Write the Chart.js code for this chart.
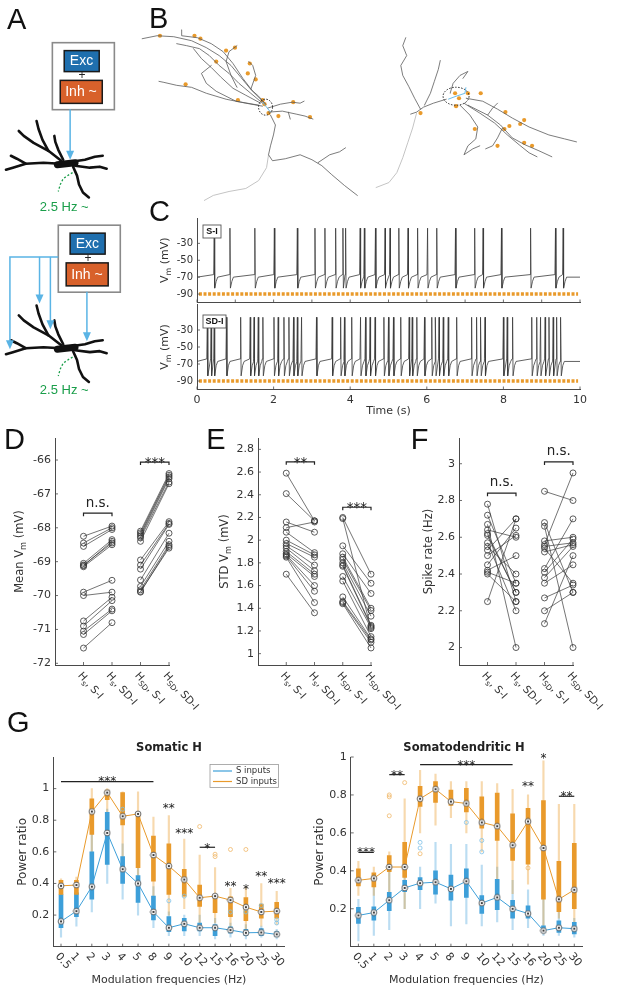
<!DOCTYPE html>
<html>
<head>
<meta charset="utf-8">
<script src="https://cdn.jsdelivr.net/npm/chart.js@4.4.1/dist/chart.umd.min.js"></script>
<style>
  html, body { margin: 0; padding: 0; background: #fff; }
  #page { position: relative; width: 617px; height: 988px; overflow: hidden; }
  #page canvas { position: absolute; left: 0; top: 0; }
</style>
</head>
<body>
<div id="page"></div>
<script>
// ---- panel C : spike times (s)
const spikesSI = [0.45, 0.86, 1.51, 2.02, 2.62, 3.08, 3.34, 3.62, 3.81, 3.88, 4.26, 4.37, 4.66, 4.91, 5.04,
  5.27, 5.51, 5.76, 6.02, 6.26, 6.75, 7.25, 7.47, 7.95, 8.71, 9.36, 9.56];
const spikesSDI = [0.27, 0.37, 0.45, 0.77, 1.14, 1.39, 1.49, 1.60, 1.72, 2.01, 2.12, 2.27, 2.40, 2.52, 2.62,
  2.73, 3.12, 3.53, 3.75, 3.85, 4.04, 4.27, 4.40, 4.52, 4.65, 4.88, 5.00, 5.13, 5.32, 5.54, 5.62, 5.74,
  5.94, 6.13, 6.23, 6.32, 6.43, 6.56, 6.78, 7.17, 7.30, 7.41, 7.52, 8.00, 8.10, 8.24, 8.74, 8.87, 8.97,
  9.09, 9.19, 9.30, 9.39, 9.50];
const vmTicksC = [-90, -70, -50, -30];
const timeTicksTop = [0, 1, 2, 3, 4, 5, 6, 7, 8, 9, 10];
const timeTicksBottom = [0, 2, 4, 6, 8, 10];
const inhLevel = -90;

// ---- panels D, E, F : paired values (H_s group, H_SD group)
const pairLabels = [['H', 's', ', S-I'], ['H', 's', ', SD-I'], ['H', 'SD', ', S-I'], ['H', 'SD', ', SD-I']];
const meanHsSI = [-68.25, -68.45, -68.55, -69.05, -69.1, -69.15, -69.12, -69.9, -70.0, -70.75, -70.9, -71.05, -71.15, -71.55];
const meanHsSDI = [-67.95, -68.0, -68.05, -68.35, -68.45, -68.5, -68.4, -69.55, -69.9, -70.05, -70.15, -70.4, -70.45, -70.8];
const meanHsdSI = [-68.1, -68.15, -68.2, -68.25, -68.3, -68.4, -68.95, -69.1, -69.22, -69.54, -69.73, -69.83, -69.88, -69.9];
const meanHsdSDI = [-66.4, -66.45, -66.5, -66.55, -66.65, -66.7, -67.82, -67.87, -67.9, -68.16, -68.4, -68.5, -68.6, -68.55];
const meanTicks = [-72, -71, -70, -69, -68, -67, -66];

const stdHsSI = [2.59, 2.41, 2.16, 2.11, 2.07, 2.0, 1.97, 1.95, 1.93, 1.9, 1.88, 1.87, 1.86, 1.85, 1.7];
const stdHsSDI = [2.17, 2.17, 2.07, 2.16, 1.89, 1.87, 1.85, 1.78, 1.73, 1.7, 1.68, 1.6, 1.55, 1.45, 1.36];
const stdHsdSI = [2.2, 2.19, 1.95, 1.88, 1.85, 1.83, 1.8, 1.78, 1.77, 1.68, 1.64, 1.5, 1.46, 1.45, 1.44];
const stdHsdSDI = [1.7, 1.22, 1.62, 1.53, 1.4, 1.38, 1.33, 1.25, 1.24, 1.23, 1.15, 1.13, 1.12, 1.1, 1.05];
const stdTicks = [1, 1.2, 1.4, 1.6, 1.8, 2, 2.2, 2.4, 2.6, 2.8];

const rateHsSI = [2.78, 2.72, 2.67, 2.64, 2.62, 2.57, 2.55, 2.53, 2.5, 2.45, 2.42, 2.41, 2.4, 2.25, 2.61];
const rateHsSDI = [2.25, 2.35, 2.0, 2.6, 2.3, 2.2, 2.4, 2.7, 2.61, 2.65, 2.5, 2.35, 2.25, 2.7, 2.3];
const rateHsdSI = [2.85, 2.68, 2.66, 2.58, 2.56, 2.55, 2.54, 2.52, 2.43, 2.41, 2.38, 2.35, 2.27, 2.2, 2.13];
const rateHsdSDI = [2.8, 2.3, 2.0, 2.6, 2.95, 2.57, 2.35, 2.56, 2.7, 2.59, 2.55, 2.45, 2.34, 2.3, 2.5];
const rateTicks = [2, 2.2, 2.4, 2.6, 2.8, 3];

// ---- panel G : power ratio box summaries per modulation frequency
const freqs = ['0.5', '1', '2', '3', '4', '5', '8', '9', '10', '12', '15', '16', '20', '25', '30'];
const powerTicks = [0.2, 0.4, 0.6, 0.8, 1];

const somS_med = [0.16, 0.225, 0.38, 0.72, 0.49, 0.40, 0.22, 0.12, 0.145, 0.12, 0.12, 0.105, 0.088, 0.09, 0.078];
const somS_q1 = [0.12, 0.19, 0.30, 0.52, 0.40, 0.28, 0.17, 0.095, 0.10, 0.10, 0.07, 0.085, 0.07, 0.07, 0.063];
const somS_q3 = [0.33, 0.34, 0.60, 0.85, 0.57, 0.45, 0.32, 0.19, 0.18, 0.15, 0.14, 0.125, 0.11, 0.115, 0.095];
const somS_lo = [0.06, 0.13, 0.22, 0.40, 0.30, 0.20, 0.12, 0.07, 0.07, 0.07, 0.05, 0.06, 0.05, 0.06, 0.05];
const somS_hi = [0.40, 0.40, 0.80, 0.87, 0.65, 0.55, 0.38, 0.22, 0.20, 0.20, 0.18, 0.15, 0.14, 0.13, 0.11];
const somS_out = [['4', 0.87], ['9', 0.29], ['10', 0.32], ['16', 0.22], ['20', 0.22], ['25', 0.26], ['30', 0.15], ['30', 0.17]];

const somSD_med = [0.385, 0.39, 0.855, 0.975, 0.825, 0.84, 0.58, 0.51, 0.425, 0.31, 0.32, 0.295, 0.25, 0.22, 0.225];
const somSD_q1 = [0.33, 0.33, 0.71, 0.93, 0.77, 0.50, 0.415, 0.33, 0.32, 0.255, 0.215, 0.19, 0.165, 0.18, 0.18];
const somSD_q3 = [0.42, 0.42, 0.935, 0.99, 0.975, 0.845, 0.70, 0.65, 0.49, 0.39, 0.33, 0.315, 0.31, 0.27, 0.28];
const somSD_lo = [0.30, 0.30, 0.55, 0.85, 0.55, 0.30, 0.25, 0.20, 0.24, 0.15, 0.15, 0.12, 0.11, 0.13, 0.14];
const somSD_hi = [0.43, 0.44, 1.0, 1.0, 0.98, 0.98, 0.82, 0.83, 0.68, 0.58, 0.50, 0.37, 0.38, 0.40, 0.35];
const somSD_out = [['12', 0.76], ['15', 0.57], ['15', 0.585], ['16', 0.615], ['20', 0.615]];

const sdS_med = [0.165, 0.18, 0.245, 0.31, 0.335, 0.34, 0.305, 0.345, 0.23, 0.26, 0.20, 0.175, 0.085, 0.10, 0.095];
const sdS_q1 = [0.123, 0.14, 0.19, 0.29, 0.30, 0.277, 0.245, 0.26, 0.175, 0.195, 0.15, 0.15, 0.075, 0.075, 0.067];
const sdS_q3 = [0.207, 0.21, 0.286, 0.35, 0.365, 0.40, 0.377, 0.41, 0.27, 0.355, 0.245, 0.215, 0.11, 0.137, 0.128];
const sdS_lo = [0.03, 0.06, 0.09, 0.20, 0.20, 0.23, 0.11, 0.12, 0.11, 0.13, 0.09, 0.10, 0.06, 0.06, 0.05];
const sdS_hi = [0.25, 0.33, 0.40, 0.43, 0.42, 0.55, 0.54, 0.54, 0.43, 0.42, 0.35, 0.30, 0.30, 0.30, 0.15];
const sdS_out = [['4', 0.55], ['4', 0.52], ['9', 0.655], ['10', 0.56], ['10', 0.50]];

const sdSD_med = [0.35, 0.36, 0.42, 0.42, 0.78, 0.83, 0.765, 0.755, 0.655, 0.635, 0.535, 0.66, 0.52, 0.25, 0.30];
const sdSD_q1 = [0.32, 0.315, 0.395, 0.365, 0.74, 0.76, 0.745, 0.71, 0.625, 0.56, 0.455, 0.435, 0.25, 0.185, 0.20];
const sdSD_q3 = [0.41, 0.39, 0.48, 0.55, 0.845, 0.87, 0.825, 0.835, 0.79, 0.81, 0.70, 0.73, 0.77, 0.45, 0.545];
const sdSD_lo = [0.27, 0.27, 0.27, 0.20, 0.60, 0.64, 0.68, 0.60, 0.50, 0.30, 0.28, 0.33, 0.08, 0.15, 0.08];
const sdSD_hi = [0.45, 0.42, 0.50, 0.78, 0.93, 0.91, 0.87, 0.87, 0.87, 0.86, 0.83, 0.80, 0.98, 0.75, 0.75];
const sdSD_out = [['2', 0.80], ['2', 0.79], ['2', 0.69], ['3', 0.865], ['4', 0.49], ['16', 0.415]];

// ---- schematic shapes (panel A neuron, panel B morphologies), page coordinates
const neuronBranches = [
  [[58, 158], [45, 148], [30, 140], [20, 133], [15, 128]],
  [[45, 148], [39, 137], [35, 126], [33, 118]],
  [[60, 157], [55, 147], [52, 139], [51, 133]],
  [[57, 161], [40, 160], [22, 161], [9, 165], [2, 167]],
  [[22, 161], [13, 156], [7, 153]],
  [[68, 159], [82, 157], [92, 154], [100, 153]],
  [[72, 163], [87, 165], [97, 164], [104, 166]],
  [[70, 164], [74, 173], [76, 182], [80, 190], [86, 195]]
];
const neuronSoma = [[54, 162], [72, 160]];
const neuronAxon = [[73, 168], [66, 172], [60, 176], [57, 182], [55, 189]];
const neuronOffsets = [0, 186];

const morphLeft = [
  [[265, 101], [258, 93], [250, 86], [240, 74], [230, 62], [218, 52], [205, 44], [190, 37], [172, 33], [155, 32], [140, 35]],
  [[263, 99], [252, 88], [242, 75], [232, 60], [222, 48], [210, 40], [196, 34], [180, 32], [180, 26]],
  [[262, 100], [250, 90], [238, 80], [228, 70], [218, 62], [208, 52], [198, 45], [185, 42], [175, 40]],
  [[260, 100], [245, 92], [232, 85], [220, 74], [210, 64], [200, 55], [192, 45]],
  [[236, 84], [230, 72], [225, 58], [228, 48], [236, 42]],
  [[250, 86], [255, 72], [252, 62], [248, 58]],
  [[262, 103], [245, 100], [225, 96], [205, 90], [190, 84], [175, 82], [162, 79], [157, 78]],
  [[258, 102], [235, 98], [215, 88], [205, 80], [200, 70], [210, 62]],
  [[268, 109], [282, 108], [296, 111], [305, 113], [313, 116]],
  [[267, 105], [280, 101], [292, 99], [300, 100], [304, 98]],
  [[288, 109], [290, 116]],
  [[270, 112], [275, 122], [273, 132], [270, 143], [268, 152], [272, 158], [285, 156], [300, 152], [312, 157], [322, 163], [332, 172], [345, 183], [358, 193]],
  [[318, 160], [330, 152], [340, 149], [346, 145]]
];
const morphLeftAxon = [[268, 152], [266, 165], [258, 178], [245, 186], [228, 189], [212, 193], [203, 198]];
const morphRight = [
  [[448, 96], [435, 100], [425, 104], [418, 109], [412, 111]],
  [[422, 106], [416, 95], [410, 83], [404, 72], [402, 62], [408, 52], [404, 42], [407, 34]],
  [[426, 102], [432, 90], [436, 78], [440, 66], [442, 57]],
  [[452, 90], [455, 80], [462, 72], [470, 68], [465, 75]],
  [[468, 95], [485, 98], [500, 106], [515, 115], [532, 124], [552, 132], [568, 136], [580, 139]],
  [[466, 100], [482, 110], [497, 120], [510, 132], [522, 142], [532, 150], [540, 154]],
  [[462, 102], [472, 112], [480, 124], [478, 136], [470, 143], [466, 152], [475, 146], [482, 143]],
  [[470, 102], [490, 112], [503, 122], [515, 135], [528, 142], [542, 148], [555, 154]],
  [[490, 112], [495, 105], [500, 100]],
  [[505, 125], [500, 135], [495, 143], [488, 146]]
];
const morphRightAxon = [[418, 110], [414, 125], [409, 140], [404, 155], [398, 170], [390, 180], [377, 185]];
const synapseDots = [[158, 32], [193, 32], [199, 35], [234, 44], [225, 47], [249, 60], [215, 58], [247, 70], [255, 76],
  [184, 81], [237, 97], [262, 97], [293, 99], [278, 113], [310, 114], [268, 110], [264, 101],
  [457, 90], [461, 95], [470, 90], [483, 90], [458, 103], [422, 110], [508, 109], [477, 126], [507, 126],
  [512, 123], [523, 121], [527, 117], [500, 143], [527, 140], [535, 143]];

// ------------------------------------------------------------------
const W = 617, H = 988;
const FONT = 'DejaVu Sans';
const ARIAL = 'Liberation Sans';
const BLUE = '#3d9fd9', ORANGE = '#e99a2b';
const BLUE_L = 'rgba(61,159,217,0.35)', ORANGE_L = 'rgba(233,154,43,0.38)';

Chart.defaults.font.family = FONT;
Chart.defaults.color = '#333';

const page = document.getElementById('page');
function newCanvas() {
  const c = document.createElement('canvas');
  c.width = W; c.height = H;
  c.style.width = W + 'px'; c.style.height = H + 'px';
  page.appendChild(c);
  return c;
}

// plot area in page pixels -> layout padding
function area(L, T, R, B, yW, xH) {
  return { left: L - yW, top: T, right: W - R, bottom: H - B - xH };
}

function linAxis(min, max, ticks, size, showLabels, fontSize) {
  return {
    type: 'linear', min: min, max: max,
    afterFit(s) { if (s.isHorizontal()) s.height = size; else s.width = size; },
    afterBuildTicks(s) { s.ticks = ticks.map(v => ({ value: v })); },
    ticks: { display: showLabels, font: { size: fontSize || 11 }, color: '#333', padding: 4,
      maxRotation: 0, autoSkip: false, callback: v => String(v) },
    grid: { display: true, drawOnChartArea: false, drawTicks: false },
    border: { display: true, color: '#4a4a4a', width: 1 }
  };
}

function baseOptions(pad, scales) {
  return {
    responsive: false, animation: false, events: [],
    layout: { padding: pad },
    plugins: { legend: { display: false }, tooltip: { enabled: false } },
    scales: scales
  };
}

const innerTicks = {
  id: 'innerTicks',
  afterDatasetsDraw(chart) {
    const { ctx, chartArea: a } = chart;
    const xs = chart.scales.x, ys = chart.scales.y;
    ctx.save();
    ctx.strokeStyle = '#4a4a4a';
    ctx.lineWidth = 0.8;
    ctx.beginPath();
    xs.ticks.forEach((t, i) => { const p = xs.getPixelForTick(i); ctx.moveTo(p, a.bottom); ctx.lineTo(p, a.bottom - 3); });
    ys.ticks.forEach((t, i) => { const p = ys.getPixelForTick(i); ctx.moveTo(a.left, p); ctx.lineTo(a.left + 3, p); });
    ctx.stroke();
    ctx.restore();
  }
};

// text with subscripts: parts = [[text, isSub], ...]
function drawRich(ctx, parts, x, y, size, rot, align, color, weight) {
  ctx.save();
  ctx.translate(x, y);
  ctx.rotate(rot || 0);
  const fonts = parts.map(p => (weight ? weight + ' ' : '') + (p[1] ? size * 0.72 : size) + 'px ' + FONT);
  let total = 0;
  const widths = parts.map((p, i) => { ctx.font = fonts[i]; const w = ctx.measureText(p[0]).width; total += w; return w; });
  let cx = align === 'left' ? 0 : -total / 2;
  ctx.fillStyle = color || '#333';
  ctx.textBaseline = 'middle';
  ctx.textAlign = 'left';
  parts.forEach((p, i) => { ctx.font = fonts[i]; ctx.fillText(p[0], cx, p[1] ? size * 0.32 : 0); cx += widths[i]; });
  ctx.restore();
}

function starText(ctx, text, x, yc, size) {
  ctx.save();
  ctx.font = size + 'px ' + FONT;
  ctx.fillStyle = '#222';
  ctx.textAlign = 'center';
  if (text.indexOf('*') >= 0) { ctx.textBaseline = 'alphabetic'; ctx.fillText(text, x, yc + size * 0.57); }
  else { ctx.textBaseline = 'middle'; ctx.fillText(text, x, yc); }
  ctx.restore();
}

// ------------------------------------------------------------------
// Schematic layer (panels A and B, panel letters)
function poly(pts, dy, color, w) {
  return { data: pts.map(p => ({ x: p[0], y: p[1] + dy })), showLine: true, borderColor: color, borderWidth: w,
    pointRadius: 0, borderCapStyle: 'round', borderJoinStyle: 'round', clip: false };
}
const sketchSets = [];
neuronOffsets.forEach(dy => {
  neuronBranches.forEach(b => sketchSets.push(poly(b, dy, '#111', 2.6)));
  sketchSets.push(poly(neuronSoma, dy, '#111', 7));
  sketchSets.push(Object.assign(poly(neuronAxon, dy, '#1a9e4a', 1.3), { borderDash: [2, 2], borderCapStyle: 'butt' }));
});
morphLeft.concat(morphRight).forEach(b => sketchSets.push(poly(b, 0, '#5a5a5a', 0.8)));
sketchSets.push(poly(morphLeftAxon, 0, '#c4c4c4', 1));
sketchSets.push(poly(morphRightAxon, 0, '#c4c4c4', 1));
sketchSets.push({ data: synapseDots.map(p => ({ x: p[0], y: p[1] })), showLine: false, pointRadius: 2.1,
  pointBackgroundColor: ORANGE, pointBorderWidth: 0, clip: false });

const sketchDeco = {
  id: 'sketchDeco',
  afterDatasetsDraw(chart) {
    const ctx = chart.ctx, xs = chart.scales.x, ys = chart.scales.y;
    const X = v => xs.getPixelForValue(v), Y = v => ys.getPixelForValue(v);
    ctx.save();
    // input boxes
    [[49, 39], [55, 223]].forEach(f => {
      const fx = f[0], fy = f[1];
      ctx.lineWidth = 1.6; ctx.strokeStyle = '#8a8a8a';
      ctx.strokeRect(X(fx), Y(fy), 62, 67);
      ctx.lineWidth = 1.5; ctx.strokeStyle = '#1a1a1a';
      ctx.fillStyle = '#1f6fae'; ctx.fillRect(X(fx + 12), Y(fy + 8), 35, 21); ctx.strokeRect(X(fx + 12), Y(fy + 8), 35, 21);
      ctx.fillStyle = '#d8612b'; ctx.fillRect(X(fx + 8), Y(fy + 38), 42, 23); ctx.strokeRect(X(fx + 8), Y(fy + 38), 42, 23);
      ctx.font = '14px ' + ARIAL; ctx.textAlign = 'center'; ctx.textBaseline = 'middle';
      ctx.fillStyle = '#fff';
      ctx.fillText('Exc', X(fx + 29.5), Y(fy + 19));
      ctx.fillText('Inh ~', X(fx + 29), Y(fy + 50));
      ctx.fillStyle = '#222'; ctx.font = '12px ' + ARIAL;
      ctx.fillText('+', X(fx + 30), Y(fy + 33.5));
    });
    // blue input arrows
    ctx.strokeStyle = '#5ab4e5'; ctx.fillStyle = '#5ab4e5'; ctx.lineWidth = 1.5;
    [[[67, 106], [67, 157]], [[55, 255], [6, 255], [6, 348]], [[36, 255], [36, 302]],
     [[47, 255], [47, 328]], [[84, 290], [84, 340]]].forEach(path => {
      const end = path[path.length - 1];
      ctx.beginPath();
      path.forEach((p, i) => { const py = i === path.length - 1 ? p[1] - 6 : p[1]; if (i) ctx.lineTo(X(p[0]), Y(py)); else ctx.moveTo(X(p[0]), Y(py)); });
      ctx.stroke();
      ctx.beginPath();
      ctx.moveTo(X(end[0]), Y(end[1])); ctx.lineTo(X(end[0]) - 4, Y(end[1]) - 9); ctx.lineTo(X(end[0]) + 4, Y(end[1]) - 9);
      ctx.closePath(); ctx.fill();
    });
    // oscillation labels
    ctx.fillStyle = '#1a9e4a'; ctx.font = '13px ' + ARIAL; ctx.textAlign = 'center'; ctx.textBaseline = 'middle';
    ctx.fillText('2.5 Hz ~', X(61), Y(205));
    ctx.fillText('2.5 Hz ~', X(61), Y(390));
    // somata of reconstructed cells
    ctx.setLineDash([1.5, 1.5]); ctx.strokeStyle = '#222'; ctx.lineWidth = 1;
    [[265, 104, 7, 8], [458, 93, 13, 9]].forEach(e => {
      ctx.beginPath(); ctx.ellipse(X(e[0]), Y(e[1]), e[2], e[3], 0, 0, 2 * Math.PI); ctx.stroke();
    });
    ctx.setLineDash([]); ctx.strokeStyle = '#5ab4e5'; ctx.lineWidth = 0.9;
    [[[262, 99], [266, 104], [270, 109]], [[450, 96], [458, 93], [467, 90], [468, 84]]].forEach(path => {
      ctx.beginPath(); path.forEach((p, i) => i ? ctx.lineTo(X(p[0]), Y(p[1])) : ctx.moveTo(X(p[0]), Y(p[1]))); ctx.stroke();
    });
    // panel letters
    ctx.fillStyle = '#111'; ctx.font = '29px ' + ARIAL; ctx.textAlign = 'left'; ctx.textBaseline = 'alphabetic';
    [['A', 3, 25], ['B', 147, 24], ['C', 147, 219], ['D', 0, 449], ['E', 205, 449], ['F', 412, 449], ['G', 3, 734]]
      .forEach(l => ctx.fillText(l[0], X(l[1]), Y(l[2])));
    ctx.restore();
  }
};

new Chart(newCanvas(), {
  type: 'scatter',
  data: { datasets: sketchSets },
  options: baseOptions(0, {
    x: { type: 'linear', min: 0, max: W, display: false },
    y: { type: 'linear', min: 0, max: H, reverse: true, display: false }
  }),
  plugins: [sketchDeco]
});

// ------------------------------------------------------------------
// Panel C : membrane potential traces
function buildTrace(spikes, rest, peak, ahp) {
  const pts = [{ x: 0, y: rest }];
  spikes.forEach((t, i) => {
    const next = i + 1 < spikes.length ? spikes[i + 1] : 10;
    pts.push({ x: t - 0.015, y: rest + 3 });
    pts.push({ x: t, y: peak });
    pts.push({ x: t + 0.012, y: ahp });
    if (next - t > 0.1) {
      pts.push({ x: t + 0.05, y: rest - 5 });
      pts.push({ x: t + 0.09, y: rest });
    }
  });
  pts.push({ x: 10, y: rest });
  return pts;
}

function traceChart(opt) {
  const deco = {
    id: 'traceDeco',
    afterDraw(chart) {
      const { ctx, chartArea: a } = chart;
      ctx.save();
      ctx.fillStyle = '#fff'; ctx.strokeStyle = '#555'; ctx.lineWidth = 0.9;
      ctx.fillRect(a.left + 6, a.top + opt.boxDy, opt.boxW, 13);
      ctx.strokeRect(a.left + 6, a.top + opt.boxDy, opt.boxW, 13);
      ctx.fillStyle = '#111'; ctx.font = 'bold 9px ' + ARIAL; ctx.textAlign = 'center'; ctx.textBaseline = 'middle';
      ctx.fillText(opt.tag, a.left + 6 + opt.boxW / 2, a.top + opt.boxDy + 6.8);
      ctx.restore();
      drawRich(ctx, [['V', false], ['m', true], [' (mV)', false]], 165, (a.top + a.bottom) / 2, 11, -Math.PI / 2, 'center');
      if (opt.timeTitle) {
        ctx.save(); ctx.font = '11px ' + FONT; ctx.fillStyle = '#333'; ctx.textAlign = 'center'; ctx.textBaseline = 'middle';
        ctx.fillText('Time (s)', (a.left + a.right) / 2, 411); ctx.restore();
      }
    }
  };
  new Chart(newCanvas(), {
    type: 'scatter',
    data: { datasets: [
      { data: buildTrace(opt.spikes, opt.rest, opt.peak, opt.ahp), showLine: true, borderColor: '#3a3a3a',
        borderWidth: 0.8, pointRadius: 0 },
      { data: [{ x: 0.05, y: inhLevel }, { x: 9.95, y: inhLevel }], showLine: true, borderColor: ORANGE,
        borderWidth: 3.5, borderDash: [3, 1.6], pointRadius: 0 }
    ] },
    options: baseOptions(area(197, opt.T, 580, opt.B, 50, opt.xH), {
      x: linAxis(0, 10, opt.xTicks, opt.xH, opt.xLabels, 11),
      y: linAxis(-100, 0, vmTicksC, 50, true, 10)
    }),
    plugins: [innerTicks, deco]
  });
}

traceChart({ T: 218, B: 302.5, xH: 2, xTicks: timeTicksTop, xLabels: false, spikes: spikesSI,
  rest: -70, peak: -12, ahp: -83, tag: 'S-I', boxW: 18, boxDy: 7, timeTitle: false });
traceChart({ T: 304.5, B: 389.5, xH: 30, xTicks: timeTicksBottom, xLabels: true, spikes: spikesSDI,
  rest: -67, peak: -15, ahp: -84, tag: 'SD-I', boxW: 23, boxDy: 10.5, timeTitle: true });

// ------------------------------------------------------------------
// Panels D, E, F : paired comparisons
function pairChart(opt) {
  const datasets = [];
  opt.groups.forEach((g, gi) => {
    g[0].forEach((v, i) => datasets.push({
      data: [{ x: gi * 2 + 1, y: v }, { x: gi * 2 + 2, y: g[1][i] }],
      showLine: true, borderColor: '#3a3a3a', borderWidth: 0.7,
      pointRadius: 3, pointBorderWidth: 0.8, pointBorderColor: '#333',
      pointBackgroundColor: 'rgba(255,255,255,0)', clip: false
    }));
  });
  const deco = {
    id: 'pairDeco',
    afterDraw(chart) {
      const { ctx, chartArea: a } = chart;
      const xs = chart.scales.x, ys = chart.scales.y;
      drawRich(ctx, opt.yTitle, opt.yTitleX, (a.top + a.bottom) / 2, 11.5, -Math.PI / 2, 'center');
      pairLabels.forEach((lab, i) => {
        const px = xs.getPixelForValue(i + 1);
        drawRich(ctx, [[lab[0], false], [lab[1], true], [lab[2], false]], px - 4, a.bottom + 9, 10.5, 48 * Math.PI / 180, 'left');
      });
      ctx.save();
      ctx.strokeStyle = '#222'; ctx.lineWidth = 1.2;
      opt.notes.forEach(n => {
        const x1 = xs.getPixelForValue(n.x1), x2 = xs.getPixelForValue(n.x2), yl = ys.getPixelForValue(n.yl);
        ctx.beginPath(); ctx.moveTo(x1, yl + 3); ctx.lineTo(x1, yl); ctx.lineTo(x2, yl); ctx.lineTo(x2, yl + 3); ctx.stroke();
        starText(ctx, n.text, (x1 + x2) / 2, ys.getPixelForValue(n.yt), 13.5);
      });
      ctx.restore();
    }
  };
  new Chart(newCanvas(), {
    type: 'scatter',
    data: { datasets: datasets },
    options: baseOptions(area(opt.L, 438, opt.R, 665, 40, 70), {
      x: linAxis(0, 4, [1, 2, 3, 4], 70, false),
      y: linAxis(opt.min, opt.max, opt.ticks, 40, true, 11)
    }),
    plugins: [innerTicks, deco]
  });
}

pairChart({ L: 55, R: 169, min: -72.05, max: -65.35, ticks: meanTicks,
  groups: [[meanHsSI, meanHsSDI], [meanHsdSI, meanHsdSDI]],
  yTitle: [['Mean V', false], ['m', true], [' (mV)', false]], yTitleX: 20,
  notes: [{ x1: 1, x2: 2, yl: -67.57, yt: -67.28, text: 'n.s.' }, { x1: 3, x2: 4, yl: -66.06, yt: -65.98, text: '***' }] });
pairChart({ L: 258, R: 371, min: 0.9, max: 2.9, ticks: stdTicks,
  groups: [[stdHsSI, stdHsSDI], [stdHsdSI, stdHsdSDI]],
  yTitle: [['STD V', false], ['m', true], [' (mV)', false]], yTitleX: 225,
  notes: [{ x1: 1, x2: 2, yl: 2.69, yt: 2.715, text: '**' }, { x1: 3, x2: 4, yl: 2.29, yt: 2.315, text: '***' }] });
pairChart({ L: 459, R: 573, min: 1.905, max: 3.14, ticks: rateTicks,
  groups: [[rateHsSI, rateHsSDI], [rateHsdSI, rateHsdSDI]],
  yTitle: [['Spike rate (Hz)', false]], yTitleX: 429,
  notes: [{ x1: 1, x2: 2, yl: 2.84, yt: 2.898, text: 'n.s.' }, { x1: 3, x2: 4, yl: 3.01, yt: 3.067, text: 'n.s.' }] });

// ------------------------------------------------------------------
// Panel G : power ratio vs modulation frequency
function medianDot() {
  const c = document.createElement('canvas');
  c.width = 8; c.height = 8;
  const g = c.getContext('2d');
  g.beginPath(); g.arc(4, 4, 2.9, 0, 2 * Math.PI); g.fillStyle = '#fff'; g.fill();
  g.lineWidth = 0.9; g.strokeStyle = '#555'; g.stroke();
  g.beginPath(); g.arc(4, 4, 1, 0, 2 * Math.PI); g.fillStyle = '#000'; g.fill();
  return c;
}
const dotImg = medianDot();

function pairsOf(a, b) { return a.map((v, i) => [v, b[i]]); }

function powerChart(opt) {
  const S = opt.S, D = opt.D;
  const datasets = [
    { type: 'bar', data: pairsOf(S.lo, S.hi), backgroundColor: BLUE_L, barThickness: 1.5, grouped: false, order: 6 },
    { type: 'bar', data: pairsOf(D.lo, D.hi), backgroundColor: ORANGE_L, barThickness: 1.5, grouped: false, order: 5 },
    { type: 'bar', data: pairsOf(S.q1, S.q3), backgroundColor: BLUE, barThickness: 4, grouped: false, order: 4 },
    { type: 'bar', data: pairsOf(D.q1, D.q3), backgroundColor: ORANGE, barThickness: 4, grouped: false, order: 3 },
    { type: 'scatter', data: S.out.map(o => ({ x: o[0], y: o[1] })), pointRadius: 2, pointBorderWidth: 0.8,
      pointBorderColor: '#7cc0e8', pointBackgroundColor: 'rgba(255,255,255,0)', order: 2, clip: false },
    { type: 'scatter', data: D.out.map(o => ({ x: o[0], y: o[1] })), pointRadius: 2, pointBorderWidth: 0.8,
      pointBorderColor: '#f0b868', pointBackgroundColor: 'rgba(255,255,255,0)', order: 2, clip: false },
    { type: 'line', data: S.med, borderColor: BLUE, borderWidth: 1, pointStyle: dotImg, pointRadius: 3, order: 1, clip: false },
    { type: 'line', data: D.med, borderColor: ORANGE, borderWidth: 1, pointStyle: dotImg, pointRadius: 3, order: 0, clip: false }
  ];
  const deco = {
    id: 'powerDeco',
    afterDraw(chart) {
      const { ctx, chartArea: a } = chart;
      const xs = chart.scales.x, ys = chart.scales.y;
      ctx.save();
      ctx.fillStyle = '#222'; ctx.font = 'bold 11.5px ' + FONT; ctx.textAlign = 'center'; ctx.textBaseline = 'middle';
      ctx.fillText(opt.title, opt.titleX, 748);
      ctx.font = '11px ' + FONT; ctx.fillStyle = '#333';
      ctx.fillText('Modulation frequencies (Hz)', (a.left + a.right) / 2, 980);
      ctx.restore();
      drawRich(ctx, [['Power ratio', false]], opt.yTitleX, (a.top + a.bottom) / 2, 12, -Math.PI / 2, 'center');
      freqs.forEach((f, i) => {
        drawRich(ctx, [[f, false]], xs.getPixelForValue(i) - 4, a.bottom + 8, 11, 48 * Math.PI / 180, 'left');
      });
      ctx.save();
      ctx.strokeStyle = '#222'; ctx.lineWidth = 1.2;
      opt.notes.forEach(n => {
        const x1 = xs.getPixelForValue(n.i1);
        let xc = x1;
        if (n.i2 !== undefined) {
          const x2 = xs.getPixelForValue(n.i2), yl = ys.getPixelForValue(n.yl);
          ctx.beginPath(); ctx.moveTo(x1, yl); ctx.lineTo(x2, yl); ctx.stroke();
          xc = (x1 + x2) / 2;
        }
        starText(ctx, n.text, xc, ys.getPixelForValue(n.yt), 12);
      });
      if (opt.legend) {
        ctx.fillStyle = '#fff'; ctx.strokeStyle = '#9a9a9a'; ctx.lineWidth = 0.8;
        ctx.fillRect(210, 764.5, 68.5, 23); ctx.strokeRect(210, 764.5, 68.5, 23);
        ctx.lineWidth = 1.2;
        ctx.strokeStyle = BLUE; ctx.beginPath(); ctx.moveTo(213, 771); ctx.lineTo(232, 771); ctx.stroke();
        ctx.strokeStyle = ORANGE; ctx.beginPath(); ctx.moveTo(213, 781.5); ctx.lineTo(232, 781.5); ctx.stroke();
        ctx.fillStyle = '#333'; ctx.font = '8.5px ' + FONT; ctx.textAlign = 'left'; ctx.textBaseline = 'middle';
        ctx.fillText('S inputs', 236, 771);
        ctx.fillText('SD inputs', 236, 781.5);
      }
      ctx.restore();
    }
  };
  new Chart(newCanvas(), {
    type: 'bar',
    data: { labels: freqs, datasets: datasets },
    options: baseOptions(area(opt.L, 757, opt.R, 946.7, 40, 36), {
      x: { type: 'category', offset: true,
        afterFit(s) { s.height = 36; },
        ticks: { display: false },
        grid: { display: true, drawOnChartArea: false, drawTicks: false, offset: false },
        border: { display: true, color: '#4a4a4a', width: 1 } },
      y: linAxis(0, opt.yMax, powerTicks, 40, true, 11)
    }),
    plugins: [innerTicks, deco]
  });
}

powerChart({
  L: 53.3, R: 284.4, yMax: 1.2, title: 'Somatic H', titleX: 169, yTitleX: 22.5, legend: true,
  S: { med: somS_med, q1: somS_q1, q3: somS_q3, lo: somS_lo, hi: somS_hi, out: somS_out },
  D: { med: somSD_med, q1: somSD_q1, q3: somSD_q3, lo: somSD_lo, hi: somSD_hi, out: somSD_out },
  notes: [{ i1: 0, i2: 6, yl: 1.044, yt: 1.065, text: '***' }, { i1: 7, yt: 0.897, text: '**' },
    { i1: 8, yt: 0.738, text: '***' }, { i1: 9, i2: 10, yl: 0.629, yt: 0.645, text: '*' },
    { i1: 11, yt: 0.405, text: '**' }, { i1: 12, yt: 0.38, text: '*' },
    { i1: 13, yt: 0.464, text: '**' }, { i1: 14, yt: 0.42, text: '***' }]
});
powerChart({
  L: 350.7, R: 582, yMax: 1, title: 'Somatodendritic H', titleX: 464, yTitleX: 320, legend: false,
  S: { med: sdS_med, q1: sdS_q1, q3: sdS_q3, lo: sdS_lo, hi: sdS_hi, out: sdS_out },
  D: { med: sdSD_med, q1: sdSD_q1, q3: sdSD_q3, lo: sdSD_lo, hi: sdSD_hi, out: sdSD_out },
  notes: [{ i1: 0, i2: 1, yl: 0.497, yt: 0.514, text: '***' }, { i1: 2, i2: 3, yl: 0.907, yt: 0.921, text: '**' },
    { i1: 4, i2: 10, yl: 0.96, yt: 0.974, text: '***' }, { i1: 11, yt: 0.86, text: '**' },
    { i1: 12, yt: 1.009, text: '*' }, { i1: 13, i2: 14, yl: 0.793, yt: 0.807, text: '**' }]
});
</script>
</body>
</html>
